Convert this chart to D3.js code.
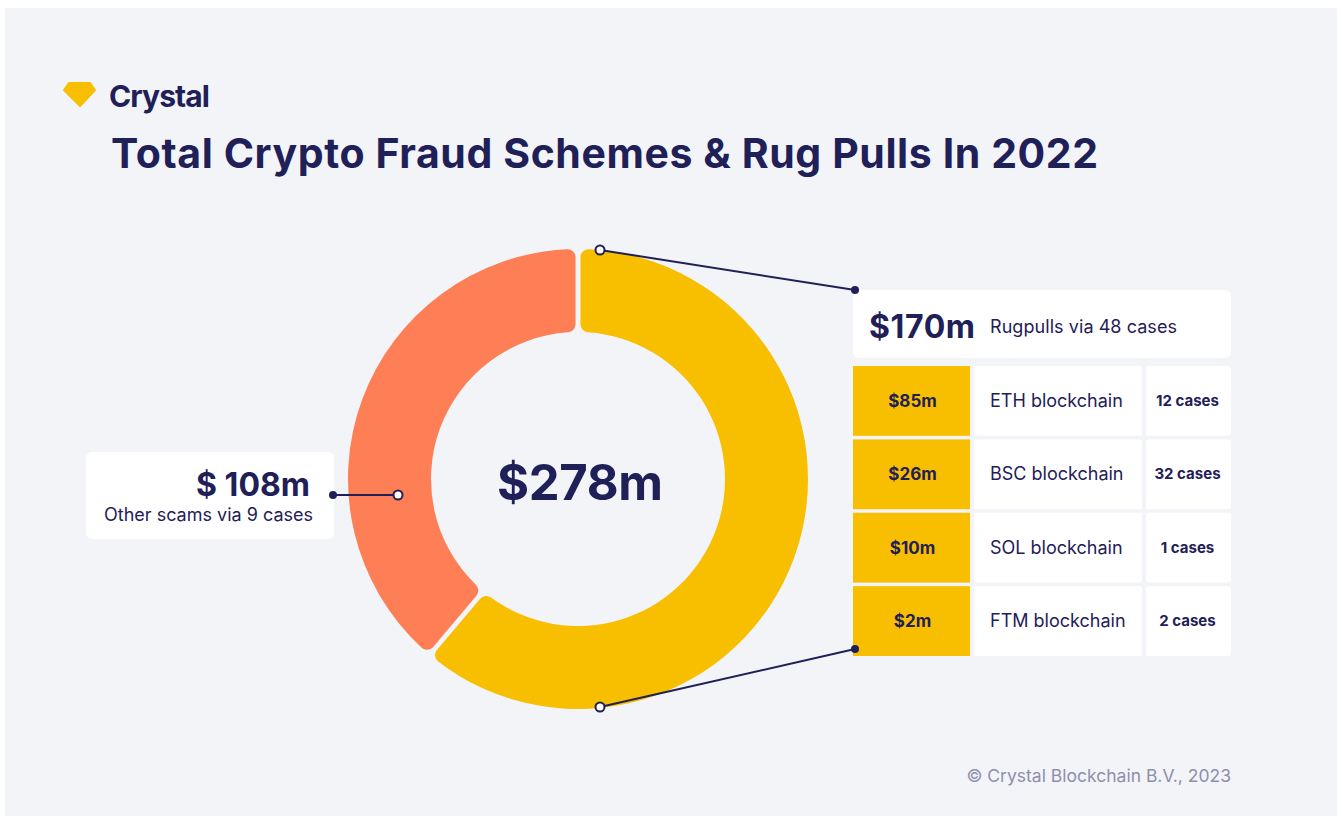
<!DOCTYPE html>
<html>
<head>
<meta charset="utf-8">
<script src="https://cdn.jsdelivr.net/npm/d3@7"></script>
<style>
  body { margin: 0; background: #fff; }
  svg text { font-family: Inter, "Noto Sans", sans-serif; fill: #1f2057; }
</style>
</head>
<body>
<div id="chart"></div>
<script>
// data
const totalLabel = '$278m'
const sliceNames = ['Rugpulls', 'Other scams']
const sliceValues = [170, 108]
const sliceCases = [48, 9]
const chainNames = ['ETH blockchain', 'BSC blockchain', 'SOL blockchain', 'FTM blockchain']
const chainValues = [85, 26, 10, 2]
const chainCases = [12, 32, 1, 2]

// dimensions
const width = 1342
const height = 819
const cx = 578
const cy = 479
const outerR = 230
const innerR = 147

// colors
const navy = '#1f2057'
const yellow = '#f8be00'
const orange = '#fe7e56'
const panel = '#f3f4f8'

const svg = d3.select('#chart').append('svg')
  .attr('width', width)
  .attr('height', height)

svg.append('rect')
  .attr('x', 5).attr('y', 8)
  .attr('width', 1332).attr('height', 808)
  .attr('fill', panel)

// logo + title
svg.append('path')
  .attr('d', 'M69,83 L90,83 L95,90 L80,106 L64,90 Z')
  .attr('fill', yellow)
  .attr('stroke', yellow)
  .attr('stroke-linejoin', 'round')
  .attr('stroke-width', 2)

svg.append('text')
  .attr('x', 109).attr('y', 107)
  .style('font-size', '30px').style('font-weight', 700)
  .attr('textLength', 101)
  .text('Crystal')

svg.append('text')
  .attr('x', 111).attr('y', 168)
  .style('font-size', '41px').style('font-weight', 700)
  .attr('textLength', 987)
  .text('Total Crypto Fraud Schemes & Rug Pulls In 2022')

// donut
const pie = d3.pie().sort(null).value(d => d)
const arc = d3.arc()
  .innerRadius(innerR)
  .outerRadius(outerR)
  .cornerRadius(8)
  .padAngle(0.026)
  .padRadius((innerR + outerR) / 2)

const scaleColor = d3.scaleOrdinal().domain(sliceNames).range([yellow, orange])

const $donut = svg.append('g').attr('transform', `translate(${cx}, ${cy})`)
$donut.selectAll('path')
  .data(pie(sliceValues))
  .join('path')
  .attr('d', arc)
  .attr('fill', (d, i) => scaleColor(sliceNames[i]))

svg.append('text')
  .attr('x', cx + 2).attr('y', cy + 21)
  .attr('text-anchor', 'middle')
  .style('font-size', '49px').style('font-weight', 700)
  .attr('textLength', 166)
  .text(totalLabel)

// table layout
const tableX = 853
const headerY = 290
const headerH = 68
const rowH = 69
const rowGap = 3.5
const colX = [853, 974, 1146]
const colW = [117, 168, 85]

const scaleY = d3.scaleBand()
  .domain(chainNames)
  .range([366, 366 + chainNames.length * (rowH + rowGap)])
  .paddingInner(rowGap / (rowH + rowGap))
  .paddingOuter(0)

// leader lines
const lines = [
  { from: [600, 250], to: [855, 290] },
  { from: [600, 707], to: [855, 649] },
  { from: [398, 495], to: [333, 495] }
]
const $lines = svg.append('g')
$lines.selectAll('line')
  .data(lines)
  .join('line')
  .attr('x1', d => d.from[0]).attr('y1', d => d.from[1])
  .attr('x2', d => d.to[0]).attr('y2', d => d.to[1])
  .attr('stroke', navy).attr('stroke-width', 2)

// header box
svg.append('rect')
  .attr('x', tableX).attr('y', headerY)
  .attr('width', 378).attr('height', headerH)
  .attr('rx', 6).attr('fill', '#fff')
svg.append('text')
  .attr('x', 869).attr('y', 338)
  .style('font-size', '32px').style('font-weight', 700)
  .attr('textLength', 106)
  .text(`$${sliceValues[0]}m`)
svg.append('text')
  .attr('x', 990).attr('y', 333)
  .style('font-size', '18px')
  .attr('textLength', 187)
  .text(`${sliceNames[0]} via ${sliceCases[0]} cases`)

// rows
const rows = svg.append('g').selectAll('g')
  .data(chainNames)
  .join('g')
  .attr('transform', d => `translate(0, ${scaleY(d)})`)

rows.append('rect')
  .attr('x', colX[0]).attr('width', colW[0])
  .attr('height', scaleY.bandwidth())
  .attr('fill', yellow)
rows.append('rect')
  .attr('x', colX[1]).attr('width', colW[1])
  .attr('height', scaleY.bandwidth())
  .attr('rx', 2)
  .attr('fill', '#fff')
rows.append('rect')
  .attr('x', colX[2]).attr('width', colW[2])
  .attr('height', scaleY.bandwidth())
  .attr('rx', 3)
  .attr('fill', '#fff')

rows.append('text')
  .attr('x', colX[0] + colW[0] / 2 + 1)
  .attr('y', scaleY.bandwidth() / 2 + 6)
  .attr('text-anchor', 'middle')
  .style('font-size', '17px').style('font-weight', 700)
  .text((d, i) => `$${chainValues[i]}m`)
rows.append('text')
  .attr('x', 990)
  .attr('y', scaleY.bandwidth() / 2 + 6)
  .style('font-size', '18px')
  .text(d => d)
rows.append('text')
  .attr('x', colX[2] + colW[2] / 2 - 1)
  .attr('y', scaleY.bandwidth() / 2 + 5)
  .attr('text-anchor', 'middle')
  .style('font-size', '15px').style('font-weight', 700)
  .text((d, i) => `${chainCases[i]} cases`)

// left label
svg.append('rect')
  .attr('x', 86).attr('y', 452)
  .attr('width', 248).attr('height', 87)
  .attr('rx', 6).attr('fill', '#fff')
svg.append('text')
  .attr('x', 310).attr('y', 496)
  .attr('text-anchor', 'end')
  .style('font-size', '32px').style('font-weight', 700)
  .text(`$ ${sliceValues[1]}m`)
svg.append('text')
  .attr('x', 313).attr('y', 521)
  .attr('text-anchor', 'end')
  .style('font-size', '18px')
  .text(`${sliceNames[1]} via ${sliceCases[1]} cases`)

// dots (drawn on top of lines)
const dots = [
  { p: [855, 290], open: false },
  { p: [855, 649], open: false },
  { p: [333, 495], open: false },
  { p: [600, 250], open: true },
  { p: [600, 707], open: true },
  { p: [398, 495], open: true }
]
svg.append('g').selectAll('circle')
  .data(dots)
  .join('circle')
  .attr('cx', d => d.p[0]).attr('cy', d => d.p[1])
  .attr('r', d => d.open ? 4.5 : 4)
  .attr('fill', d => d.open ? '#fff' : navy)
  .attr('stroke', navy)
  .attr('stroke-width', d => d.open ? 2 : 0)

// footer
svg.append('text')
  .attr('x', 1231).attr('y', 782)
  .attr('text-anchor', 'end')
  .style('font-size', '17.5px')
  .style('fill', '#8d8fad')
  .text('© Crystal Blockchain B.V., 2023')
</script>
</body>
</html>
